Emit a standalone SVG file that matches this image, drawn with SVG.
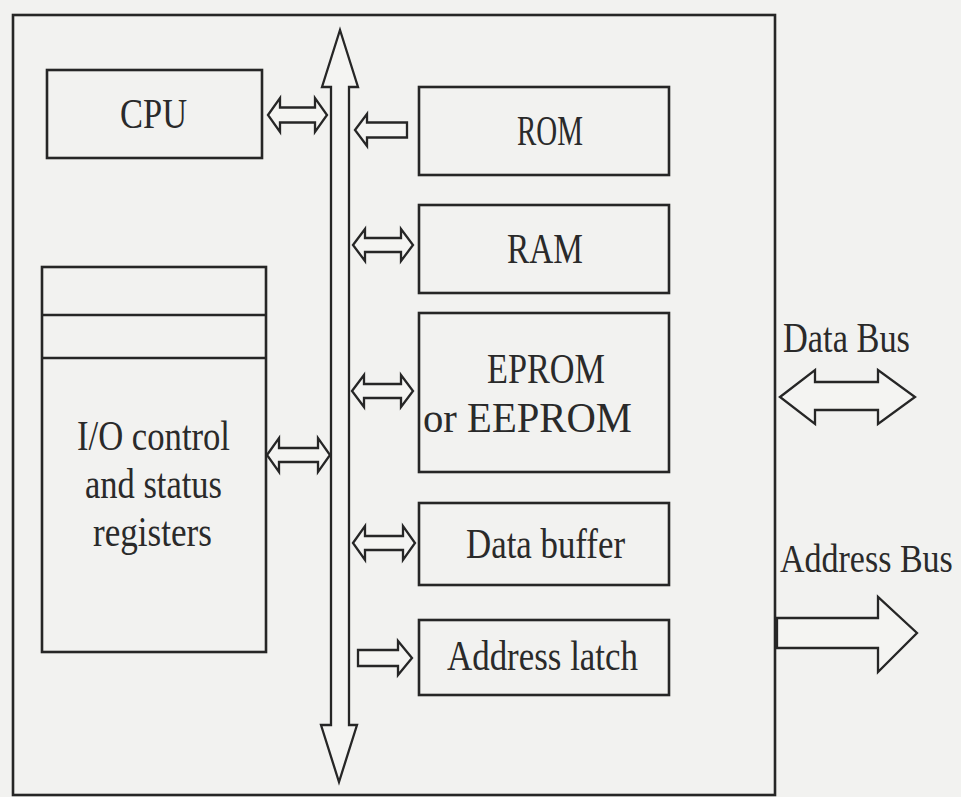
<svg xmlns="http://www.w3.org/2000/svg" width="961" height="797" viewBox="0 0 961 797">
<style>
.bg{fill:#f2f2f0}
.box{fill:none;stroke:#262626;stroke-width:2.6}
.arr{fill:#f4f4f2;stroke:#262626;stroke-width:2.3;stroke-linejoin:miter}
.t{font-family:"Liberation Serif","Times New Roman",serif;font-size:42px;fill:#2a2a2a;text-anchor:start}
.ts{font-family:"Liberation Serif","Times New Roman",serif;font-size:34px;fill:#2a2a2a;text-anchor:start}
</style>
<rect class="bg" x="0" y="0" width="961" height="797"/>
<g id="frame"><rect class="box" x="13" y="15" width="762" height="780"/></g>
<g id="cpu"><rect class="box" x="47" y="70" width="215" height="88"/><text class="t" x="120" y="128" textLength="67" lengthAdjust="spacingAndGlyphs">CPU</text></g>
<g id="io"><rect class="box" x="42" y="267" width="224" height="385"/><line class="box" x1="42" y1="315" x2="266" y2="315"/><line class="box" x1="42" y1="358" x2="266" y2="358"/>
<text class="t" x="77" y="450" textLength="153" lengthAdjust="spacingAndGlyphs">I/O control</text>
<text class="t" x="85" y="498" textLength="137" lengthAdjust="spacingAndGlyphs">and status</text>
<text class="t" x="93" y="546" textLength="119" lengthAdjust="spacingAndGlyphs">registers</text></g>
<g id="rom"><rect class="box" x="419" y="87" width="250" height="88"/><text class="t" x="517" y="145" textLength="66" lengthAdjust="spacingAndGlyphs">ROM</text></g>
<g id="ram"><rect class="box" x="419" y="205" width="250" height="88"/><text class="t" x="507" y="263" textLength="76" lengthAdjust="spacingAndGlyphs">RAM</text></g>
<g id="eprom"><rect class="box" x="419" y="313" width="250" height="159"/><text class="t" x="487" y="383" textLength="118" lengthAdjust="spacingAndGlyphs">EPROM</text><text class="t" x="423" y="432" textLength="209" lengthAdjust="spacingAndGlyphs">or EEPROM</text></g>
<g id="databuffer"><rect class="box" x="419" y="503" width="250" height="82"/><text class="t" x="466" y="558" textLength="159" lengthAdjust="spacingAndGlyphs">Data buffer</text></g>
<g id="addresslatch"><rect class="box" x="419" y="620" width="250" height="75"/><text class="t" x="447" y="670" textLength="191" lengthAdjust="spacingAndGlyphs">Address latch</text></g>
<g id="databus-label"><text class="t" x="783" y="352" textLength="127" lengthAdjust="spacingAndGlyphs">Data Bus</text></g>
<g id="addressbus-label"><text class="ts" transform="translate(780,572) scale(1,1.2)" x="0" y="0">Address Bus</text></g>
<g id="connectors">
<path id="bus" class="arr" d="M340,30 L358,87 L349,87 L349,725 L357,725 L339,782 L321,725 L331,725 L331,87 L322,87 Z"/>
<path class="arr" d="M268,115 L280,98 L280,107.5 L315,107.5 L315,98 L327,115 L315,132 L315,122.5 L280,122.5 L280,132 Z"/>
<path class="arr" d="M355,130 L367,114 L367,122.5 L407,122.5 L407,137.5 L367,137.5 L367,146 Z"/>
<path class="arr" d="M353,245 L365,229 L365,238 L401,238 L401,229 L413,245 L401,261 L401,252 L365,252 L365,261 Z"/>
<path class="arr" d="M352,391 L364,375 L364,384 L401,384 L401,375 L413,391 L401,407 L401,398 L364,398 L364,407 Z"/>
<path class="arr" d="M267,455 L279,438 L279,448 L318,448 L318,438 L330,455 L318,472 L318,462 L279,462 L279,472 Z"/>
<path class="arr" d="M353,543 L365,526 L365,536 L403,536 L403,526 L415,543 L403,560 L403,550 L365,550 L365,560 Z"/>
<path class="arr" d="M358,650 L398,650 L398,641 L412,658 L398,675 L398,666 L358,666 Z"/>
<path id="databus" class="arr" d="M780,397 L815,370 L815,382 L878,382 L878,370 L915,397 L878,424 L878,410 L815,410 L815,424 Z"/>
<path id="addressbus" class="arr" d="M777,618 L878,618 L878,597 L917,633 L878,672 L878,648 L777,648 Z"/>
</g>
</svg>
